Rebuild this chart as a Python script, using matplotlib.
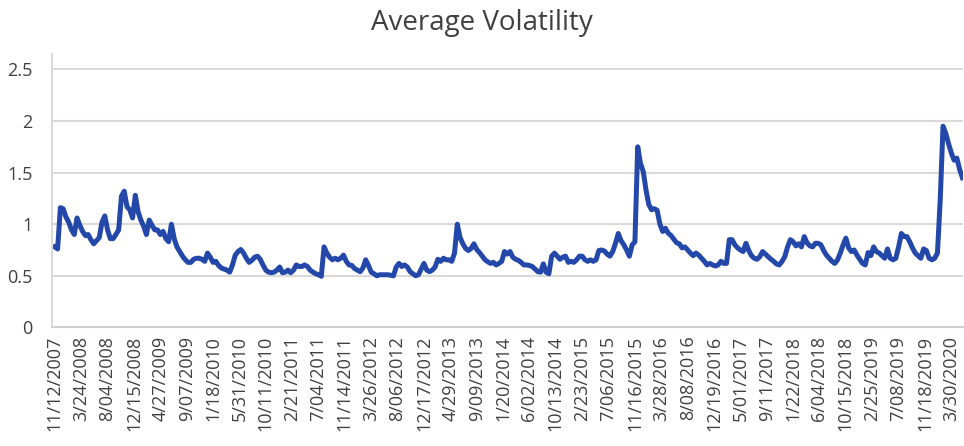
import pandas as pd
import matplotlib.pyplot as plt

# biweekly readings of the average volatility, starting 11/12/2007
vol = [
    0.78, 0.76, 1.16, 1.15, 1.07, 1.02, 0.945, 0.90, 1.06, 0.99, 0.93, 0.89,
    0.90, 0.85, 0.81, 0.84, 0.87, 1.02, 1.08, 0.945, 0.86, 0.86, 0.90, 0.945,
    1.27, 1.32, 1.17, 1.14, 1.06, 1.28, 1.12, 1.04, 0.98, 0.90, 1.04, 0.99,
    0.945, 0.945, 0.90, 0.93, 0.86, 0.83, 1.00, 0.86, 0.78, 0.735, 0.69, 0.655,
    0.63, 0.63, 0.66, 0.67, 0.67, 0.66, 0.64, 0.72, 0.68, 0.63, 0.64, 0.60,
    0.575, 0.565, 0.555, 0.535, 0.605, 0.70, 0.735, 0.755, 0.72, 0.67, 0.63, 0.65,
    0.68, 0.69, 0.66, 0.605, 0.555, 0.535, 0.53, 0.535, 0.555, 0.585, 0.53, 0.535,
    0.555, 0.53, 0.555, 0.605, 0.59, 0.59, 0.605, 0.59, 0.555, 0.535, 0.52, 0.51,
    0.495, 0.78, 0.72, 0.68, 0.655, 0.67, 0.655, 0.67, 0.70, 0.64, 0.605, 0.60,
    0.57, 0.555, 0.54, 0.575, 0.655, 0.60, 0.535, 0.52, 0.50, 0.51, 0.51, 0.51,
    0.51, 0.505, 0.50, 0.585, 0.62, 0.59, 0.605, 0.585, 0.54, 0.52, 0.50, 0.51,
    0.565, 0.62, 0.555, 0.54, 0.555, 0.585, 0.66, 0.64, 0.67, 0.655, 0.655, 0.64,
    0.72, 1.00, 0.87, 0.81, 0.765, 0.745, 0.765, 0.81, 0.755, 0.725, 0.69, 0.655,
    0.635, 0.62, 0.63, 0.605, 0.62, 0.64, 0.735, 0.71, 0.735, 0.68, 0.66, 0.65,
    0.63, 0.605, 0.605, 0.60, 0.59, 0.565, 0.54, 0.535, 0.615, 0.535, 0.52, 0.69,
    0.72, 0.69, 0.66, 0.68, 0.69, 0.63, 0.64, 0.63, 0.655, 0.69, 0.69, 0.655,
    0.64, 0.655, 0.64, 0.655, 0.745, 0.75, 0.74, 0.71, 0.69, 0.735, 0.815, 0.91,
    0.84, 0.80, 0.75, 0.69, 0.80, 0.83, 1.75, 1.59, 1.51, 1.33, 1.19, 1.14,
    1.15, 1.135, 1.00, 0.93, 0.96, 0.913, 0.89, 0.855, 0.82, 0.81, 0.77, 0.78,
    0.75, 0.72, 0.695, 0.72, 0.70, 0.67, 0.64, 0.605, 0.62, 0.605, 0.595, 0.605,
    0.64, 0.62, 0.62, 0.85, 0.85, 0.80, 0.77, 0.75, 0.735, 0.815, 0.745, 0.695,
    0.67, 0.66, 0.685, 0.735, 0.71, 0.685, 0.66, 0.64, 0.615, 0.605, 0.64, 0.685,
    0.78, 0.85, 0.83, 0.79, 0.81, 0.78, 0.88, 0.82, 0.79, 0.78, 0.815, 0.815,
    0.80, 0.745, 0.70, 0.67, 0.64, 0.62, 0.655, 0.72, 0.80, 0.865, 0.77, 0.735,
    0.75, 0.70, 0.66, 0.62, 0.605, 0.725, 0.695, 0.78, 0.735, 0.72, 0.695, 0.67,
    0.76, 0.67, 0.655, 0.67, 0.78, 0.91, 0.88, 0.88, 0.83, 0.77, 0.72, 0.695,
    0.67, 0.76, 0.745, 0.67, 0.655, 0.67, 0.72, 1.24, 1.95, 1.88, 1.78, 1.69,
    1.62, 1.64, 1.53, 1.45,
]
dates = pd.date_range("2007-11-12", periods=len(vol), freq="14D")

tick_labels = [
    "11/12/2007", "3/24/2008", "8/04/2008", "12/15/2008", "4/27/2009", "9/07/2009",
    "1/18/2010", "5/31/2010", "10/11/2010", "2/21/2011", "7/04/2011", "11/14/2011",
    "3/26/2012", "8/06/2012", "12/17/2012", "4/29/2013", "9/09/2013", "1/20/2014",
    "6/02/2014", "10/13/2014", "2/23/2015", "7/06/2015", "11/16/2015", "3/28/2016",
    "8/08/2016", "12/19/2016", "5/01/2017", "9/11/2017", "1/22/2018", "6/04/2018",
    "10/15/2018", "2/25/2019", "7/08/2019", "11/18/2019", "3/30/2020",
]
tick_dates = pd.to_datetime(tick_labels, format="%m/%d/%Y")
y_ticks = [0, 0.5, 1, 1.5, 2, 2.5]
y_tick_labels = ["0", "0.5", "1", "1.5", "2", "2.5"]

plt.rcParams["font.family"] = ["Open Sans", "DejaVu Sans"]

fig = plt.figure(figsize=(9.64, 4.46), dpi=100)
ax = fig.add_axes([0.054, 0.266, 0.945, 0.613])

ax.plot(dates, vol, color="#2348AA", linewidth=3.6, solid_joinstyle="round")

ax.set_ylim(0, 2.65)
ax.set_yticks(y_ticks)
ax.set_yticklabels(y_tick_labels)
ax.set_xticks(tick_dates)
ax.set_xticklabels(tick_labels, rotation=90)
ax.set_xlim(pd.Timestamp("2007-10-29"), dates[-1] + pd.Timedelta(days=3))

ax.grid(axis="y", color="#d9d9d9", linewidth=1.5)
ax.set_axisbelow(True)
for side in ["top", "right"]:
    ax.spines[side].set_visible(False)
ax.spines["left"].set_color("#d9d9d9")
ax.spines["left"].set_linewidth(1.5)
ax.spines["bottom"].set_color("#d0d0d0")
ax.spines["bottom"].set_linewidth(1.5)
ax.tick_params(axis="both", length=0, labelsize=13, colors="#404040")
ax.tick_params(axis="y", pad=14)
ax.tick_params(axis="x", pad=6)

fig.suptitle("Average Volatility", fontsize=20, color="#404040", y=0.98)

fig.savefig("out.png", dpi=100)
